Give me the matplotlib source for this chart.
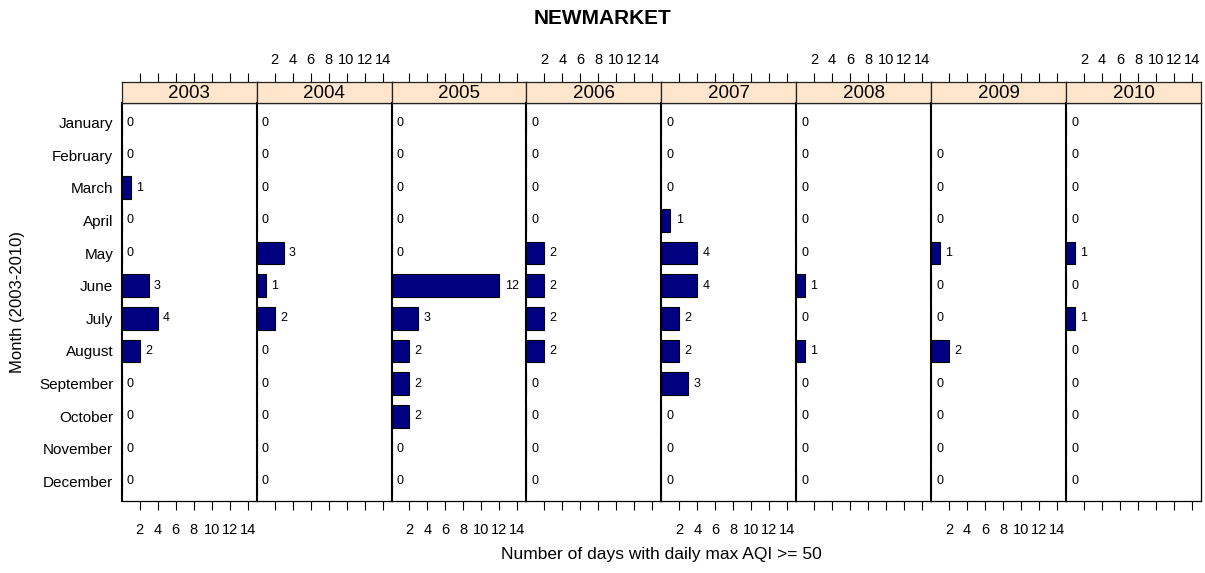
import numpy as np
import matplotlib.pyplot as plt

plt.rcParams['font.family'] = ['Liberation Sans', 'DejaVu Sans']

# DATA
years = ['2003', '2004', '2005', '2006', '2007', '2008', '2009', '2010']
months = ['January', 'February', 'March', 'April', 'May', 'June', 'July',
          'August', 'September', 'October', 'November', 'December']
days_2003 = [0, 0, 1, 0, 0, 3, 4, 2, 0, 0, 0, 0]
days_2004 = [0, 0, 0, 0, 3, 1, 2, 0, 0, 0, 0, 0]
days_2005 = [0, 0, 0, 0, 0, 12, 3, 2, 2, 2, 0, 0]
days_2006 = [0, 0, 0, 0, 2, 2, 2, 2, 0, 0, 0, 0]
days_2007 = [0, 0, 0, 1, 4, 4, 2, 2, 3, 0, 0, 0]
days_2008 = [0, 0, 0, 0, 0, 1, 0, 1, 0, 0, 0, 0]
days_2009 = [np.nan, 0, 0, 0, 1, 0, 0, 2, 0, 0, 0, 0]   # no January record
days_2010 = [0, 0, 0, 0, 1, 0, 1, 0, 0, 0, 0, 0]
DAYS = [days_2003, days_2004, days_2005, days_2006,
        days_2007, days_2008, days_2009, days_2010]
xticks = [2, 4, 6, 8, 10, 12, 14]

W, H = 1205, 573
fig = plt.figure(figsize=(W/100, H/100), dpi=100)

# layout in pixels
x0, pw = 121.7, 134.9
ytop, ybot = 103, 501
strip_h = 21
bar_color = '#000080'
strip_color = '#FFE5CC'

ypos = np.arange(1, len(months)+1)

for i, (yr, d) in enumerate(zip(years, DAYS)):
    left = (x0 + i*pw)/W
    ax = fig.add_axes([left, 1-ybot/H, pw/W, (ybot-ytop)/H])
    st = fig.add_axes([left, 1-ytop/H, pw/W, strip_h/H])
    d = np.array(d, dtype=float)
    ok = ~np.isnan(d)
    ax.barh(ypos[ok], d[ok], height=0.7, color=bar_color,
            edgecolor='black', linewidth=0.8)
    for y, v in zip(ypos[ok], d[ok]):
        ax.annotate('%d' % v, (v, y), xytext=(3.8, 0), textcoords='offset points',
                    va='center', ha='left', fontsize=9)
    ax.set_xlim(0, 15)
    ax.set_ylim(12.6, 0.4)
    ax.set_xticks(xticks)
    ax.tick_params(axis='x', direction='out', length=6.5, width=0.8,
                   labelsize=10.5, pad=9, labelbottom=(i % 2 == 0))
    if i == 0:
        ax.set_yticks(ypos)
        ax.set_yticklabels(months)
        ax.tick_params(axis='y', length=0, labelsize=11, pad=6)
    else:
        ax.set_yticks([])
    for s in ax.spines.values():
        s.set_linewidth(0.9)
    ax.spines['left'].set_linewidth(1.5)

    # strip with top ticks
    st.set_facecolor(strip_color)
    st.set_xlim(0, 15)
    st.set_ylim(0, 1)
    st.set_yticks([])
    st.set_xticks(xticks)
    st.xaxis.set_ticks_position('top')
    st.tick_params(axis='x', direction='out', length=6.5, width=0.8,
                   labelsize=10.5, pad=4, labeltop=(i % 2 == 1))
    st.text(7.5, 0.45, yr, ha='center', va='center', fontsize=13.5)
    for s in st.spines.values():
        s.set_linewidth(0.9)
        s.set_color('#222222')

fig.text(0.5, 1-18/H, 'NEWMARKET', ha='center', va='center',
         fontsize=15, fontweight='bold')
fig.text((x0 + 4*pw)/W, 1-555/H, 'Number of days with daily max AQI >= 50',
         ha='center', va='center', fontsize=12.5)
fig.text(18/W, 1-(ytop+ybot)/2/H, 'Month (2003-2010)', rotation=90,
         ha='center', va='center', fontsize=12)

plt.savefig('out.png', dpi=100)
